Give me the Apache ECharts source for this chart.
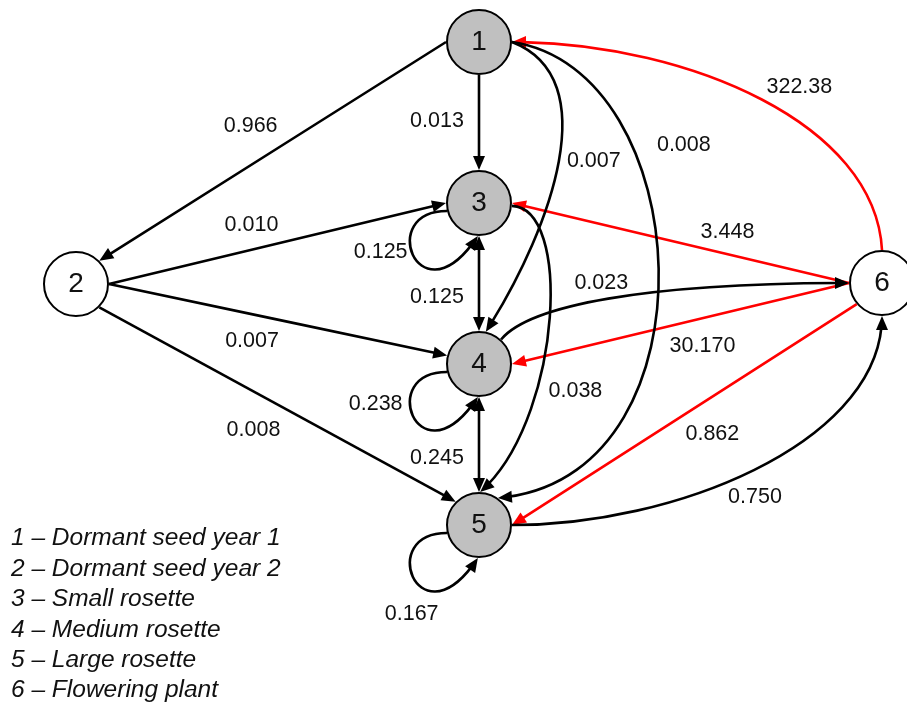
<!DOCTYPE html>
<html><head><meta charset="utf-8">
<script src="https://cdn.jsdelivr.net/npm/echarts@6/dist/echarts.min.js"></script>
<style>html,body{margin:0;padding:0;background:#fff}#c{width:907px;height:705px}</style>
</head><body><div id="c"></div>
<script>
// ---- data ----
const nodeNames = ['1', '2', '3', '4', '5', '6'];
const nodeX = [479, 76, 479, 479, 479, 882];
const nodeY = [42, 284, 203, 364, 525, 283];
const stageNames = ['Dormant seed year 1', 'Dormant seed year 2', 'Small rosette', 'Medium rosette', 'Large rosette', 'Flowering plant'];

const edgeFrom = ['1', '1', '2', '2', '2', '3', '4', '6', '6', '6', '6', '1', '1', '3', '4', '5', '3', '4', '5'];
const edgeTo   = ['2', '3', '3', '4', '5', '4', '5', '3', '4', '5', '1', '4', '5', '5', '6', '6', '3', '4', '5'];
const edgeValues = [0.966, 0.013, 0.010, 0.007, 0.008, 0.125, 0.245, 3.448, 30.170, 0.862, 322.38, 0.007, 0.008, 0.038, 0.023, 0.750, 0.125, 0.238, 0.167];

// ---- styles (anchor angles on circles, curve handles, label offsets) ----
const nodeFill = ['#c0c0c0', '#ffffff', '#c0c0c0', '#c0c0c0', '#c0c0c0', '#ffffff'];
const loopShape = { a0: 166, a1: 92, h1: [-72, 0], h2: [-58, 88] };
const edgeShape = [
  { a0: 180, a1: 315, off: [-22, -25] },
  { a0: 90, a1: 270, off: [-42, -1] },
  { a0: 0, a1: 180, off: [-26, -18] },
  { a0: 0, a1: 195, off: [-26, 21] },
  { a0: 45, a1: 225, off: [-24, 26] },
  { a0: 90, a1: 270, both: true, off: [-42, 14] },
  { a0: 90, a1: 270, both: true, off: [-42, 14] },
  { a0: 180, a1: 0, off: [47, -11] },
  { a0: 180, a1: 0, off: [22, 23] },
  { a0: 140, a1: 0, off: [28, 19] },
  { a0: 270, a1: 0, h1: [-7, -130], h2: [168, 0], off: [42, -10] },
  { a0: 0, a1: 282, h1: [98, 38], h2: [59, -92], off: [36, -6] },
  { a0: 0, a1: 305, h1: [188, 28], h2: [222, -18], t: 0.3, off: [50, -4] },
  { a0: 5, a1: 272, h1: [62, 2], h2: [80, -70], t: 0.65, off: [36, 10] },
  { a0: 312, a1: 180, h1: [29, -35], h2: [-199, 0], off: [-10, -15] },
  { a0: 0, a1: 90, h1: [168, 0], h2: [0, 124], off: [-5, 30] },
  Object.assign({ off: [-33, -4] }, loopShape),
  Object.assign({ off: [-38, -13] }, loopShape),
  Object.assign({ off: [-2, 36] }, loopShape)
];
const FONT = "'Liberation Sans', Arial, sans-serif";
const ARROW_L = 14, ARROW_W = 12, R_ANCHOR = 33;

function fmt(v) { return v >= 100 ? v.toFixed(2) : v.toFixed(3); }
function lerp(a, b, t) { return [a[0] + (b[0] - a[0]) * t, a[1] + (b[1] - a[1]) * t]; }
function dist(a, b) { return Math.hypot(a[0] - b[0], a[1] - b[1]); }
function anchor(c, deg) { const a = deg * Math.PI / 180; return [c[0] + R_ANCHOR * Math.cos(a), c[1] + R_ANCHOR * Math.sin(a)]; }
function bez(p0, c1, c2, p3, t) {
  const u = 1 - t;
  return [u*u*u*p0[0] + 3*u*u*t*c1[0] + 3*u*t*t*c2[0] + t*t*t*p3[0],
          u*u*u*p0[1] + 3*u*u*t*c1[1] + 3*u*t*t*c2[1] + t*t*t*p3[1]];
}
function splitFirst(p0, c1, c2, p3, t) {
  const a = lerp(p0, c1, t), b = lerp(c1, c2, t), c = lerp(c2, p3, t);
  const d = lerp(a, b, t), e = lerp(b, c, t), f = lerp(d, e, t);
  return [p0, a, d, f];
}
function splitSecond(p0, c1, c2, p3, t) {
  const a = lerp(p0, c1, t), b = lerp(c1, c2, t), c = lerp(c2, p3, t);
  const d = lerp(a, b, t), e = lerp(b, c, t), f = lerp(d, e, t);
  return [f, e, c, p3];
}
function arrowPts(tip, from) {
  const dx = tip[0] - from[0], dy = tip[1] - from[1], l = Math.hypot(dx, dy) || 1;
  const ux = dx / l, uy = dy / l;
  const bx = tip[0] - ux * ARROW_L, by = tip[1] - uy * ARROW_L;
  return [tip, [bx - uy * ARROW_W / 2, by + ux * ARROW_W / 2], [bx + uy * ARROW_W / 2, by - ux * ARROW_W / 2]];
}

const chart = echarts.init(document.getElementById('c'), null, { renderer: 'canvas' });

function renderEdge(params, api) {
  const i = params.dataIndex;
  const s = edgeShape[i];
  const fi = nodeNames.indexOf(edgeFrom[i]), ti = nodeNames.indexOf(edgeTo[i]);
  const cf = api.coord([nodeX[fi], nodeY[fi]]), ct = api.coord([nodeX[ti], nodeY[ti]]);
  const p0 = anchor(cf, s.a0), p3 = anchor(ct, s.a1);
  let c1, c2;
  if (s.h1) { c1 = [p0[0] + s.h1[0], p0[1] + s.h1[1]]; c2 = [p3[0] + s.h2[0], p3[1] + s.h2[1]]; }
  else { c1 = lerp(p0, p3, 1 / 3); c2 = lerp(p0, p3, 2 / 3); }
  const color = edgeFrom[i] === '6' ? '#ff0000' : '#000000';
  let seg = [p0, c1, c2, p3];
  const eEnd = 0.75 * ARROW_L / (3 * dist(c2, p3));
  seg = splitFirst(seg[0], seg[1], seg[2], seg[3], 1 - eEnd);
  if (s.both) {
    const eStart = 0.75 * ARROW_L / (3 * dist(seg[0], seg[1]));
    seg = splitSecond(seg[0], seg[1], seg[2], seg[3], eStart);
  }
  const children = [{
    type: 'bezierCurve',
    shape: { x1: seg[0][0], y1: seg[0][1], cpx1: seg[1][0], cpy1: seg[1][1], cpx2: seg[2][0], cpy2: seg[2][1], x2: seg[3][0], y2: seg[3][1] },
    style: { stroke: color, lineWidth: 2.6, fill: null }
  }, {
    type: 'polygon', shape: { points: arrowPts(p3, c2) }, style: { fill: color }
  }];
  if (s.both) children.push({ type: 'polygon', shape: { points: arrowPts(p0, c1) }, style: { fill: color } });
  const lp = bez(p0, c1, c2, p3, s.t || 0.5);
  children.push({
    type: 'text',
    style: {
      text: fmt(edgeValues[i]), x: lp[0] + s.off[0], y: lp[1] + s.off[1],
      align: 'center', verticalAlign: 'middle', textAlign: 'center', textVerticalAlign: 'middle',
      fill: '#111', fontSize: 21.5, fontFamily: FONT
    }
  });
  return { type: 'group', children: children };
}

const legendGraphics = stageNames.map((n, i) => ({
  type: 'text', left: 11, top: 526 + i * 30.4,
  style: { text: nodeNames[i] + ' \u2013 ' + n, fill: '#111', fontSize: 24.5, fontStyle: 'italic', fontFamily: FONT }
}));

chart.setOption({
  animation: false,
  backgroundColor: '#ffffff',
  grid: { left: 0, right: 0, top: 0, bottom: 0 },
  xAxis: { type: 'value', min: 0, max: 907, show: false },
  yAxis: { type: 'value', min: 0, max: 705, inverse: true, show: false },
  graphic: legendGraphics,
  series: [{
    type: 'custom',
    clip: false,
    z: 2,
    silent: true,
    encode: { x: 0, y: 1 },
    data: edgeValues.map((v, i) => { const fi = nodeNames.indexOf(edgeFrom[i]); return [nodeX[fi], nodeY[fi], v]; }),
    renderItem: renderEdge
  }, {
    type: 'scatter',
    z: 3,
    silent: true,
    symbol: 'circle',
    symbolSize: 64,
    data: nodeNames.map((n, i) => ({ name: n, value: [nodeX[i], nodeY[i]], itemStyle: { color: nodeFill[i] } })),
    itemStyle: { borderColor: '#000', borderWidth: 2, opacity: 1 },
    label: { show: true, position: 'inside', formatter: '{b}', fontSize: 28, color: '#111', fontFamily: FONT }
  }]
});
</script></body></html>
